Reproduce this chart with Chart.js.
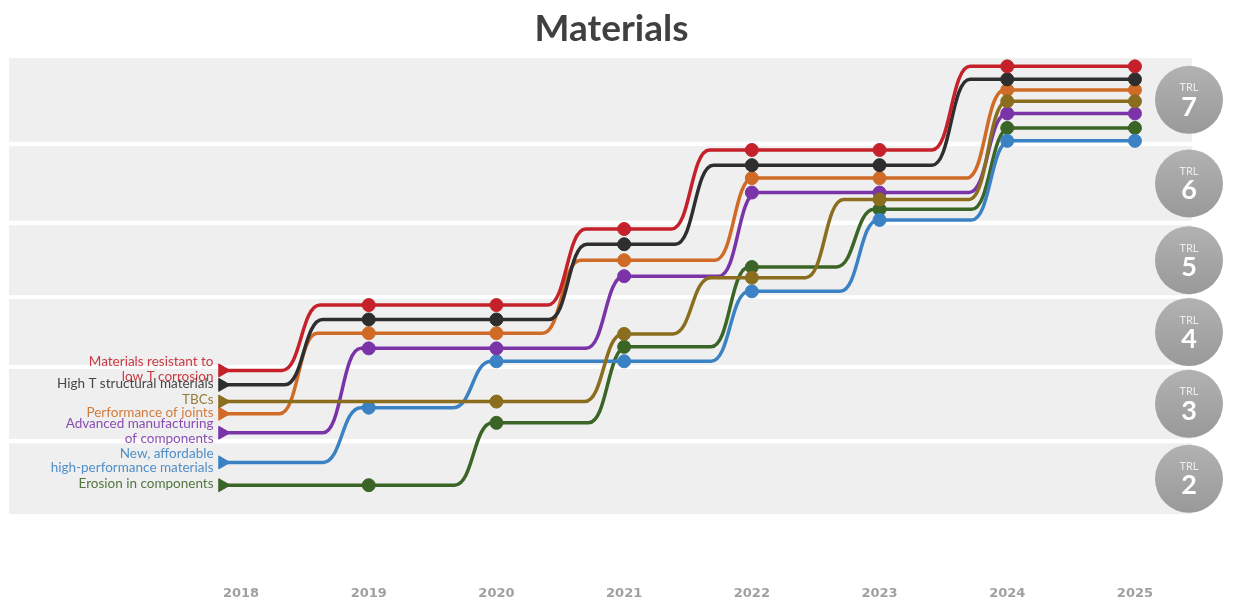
<!DOCTYPE html>
<html>
<head>
<meta charset="utf-8">
<title>Materials</title>
<script src="https://cdn.jsdelivr.net/npm/chart.js@4.4.1/dist/chart.umd.min.js"></script>
<style>
  html, body { margin: 0; padding: 0; background: #ffffff; }
  #wrap { position: relative; width: 1239px; height: 603px; }
</style>
</head>
<body>
<div id="wrap"><canvas id="materialsChart"></canvas></div>
<script>
// Start marker sits a little before 2018, then one point per year
const startYear = 2017.855;
const years = [2019, 2020, 2021, 2022, 2023, 2024, 2025];
const tickYears = [2018, 2019, 2020, 2021, 2022, 2023, 2024, 2025];

// TRL bands (value range of each grey band)
const trlLevels = [2, 3, 4, 5, 6, 7];
const bandLow = [1.5, 2.49, 3.46, 4.38, 5.36, 6.40];
const bandHigh = [2.43, 3.41, 4.33, 5.30, 6.34, 7.5];

// Series values: start, 2019 ... 2025
const resistantLowT = [3.39, 4.25, 4.25, 5.25, 6.29, 6.29, 7.39, 7.39];
const highTStructural = [3.20, 4.06, 4.06, 5.05, 6.09, 6.09, 7.22, 7.22];
const tbcs = [2.98, 2.98, 2.98, 3.87, 4.61, 5.64, 6.93, 6.93];
const joints = [2.82, 3.88, 3.88, 4.84, 5.92, 5.92, 7.08, 7.08];
const advancedMfg = [2.57, 3.68, 3.68, 4.63, 5.73, 5.73, 6.77, 6.77];
const affordable = [2.18, 2.90, 3.51, 3.51, 4.43, 5.37, 6.41, 6.41];
const erosion = [1.88, 1.88, 2.70, 3.70, 4.75, 5.51, 6.58, 6.58];

// When each step happens (year), one entry per segment, null = no step
const resistantRise = [2018.47, null, 2020.55, 2021.52, null, 2023.56, null];
const highTRise = [2018.49, null, 2020.56, 2021.55, null, 2023.56, null];
const tbcsRise = [null, null, 2020.84, 2021.53, 2022.57, 2023.85, null];
const jointsRise = [2018.45, null, 2020.51, 2021.86, null, 2023.83, null];
const advancedRise = [2018.79, null, 2020.85, 2021.89, null, 2023.85, null];
const affordableRise = [2018.79, 2019.81, null, 2021.83, 2022.84, 2023.87, null];
const erosionRise = [null, 2019.82, 2020.87, 2021.83, 2022.81, 2023.87, null];

const pointYears = [startYear, ...years];

const STEP_WIDTH = 38;
const LINE_WIDTH = 3.5;
const BAND_END_INSET = 22; // bands stop short of the right edge of the plot

function makeSeries(label, lines, color, values, rise, hideAt = []) {
  return {
    label,
    lines,
    rise,
    hideAt,
    data: pointYears.map((x, i) => ({ x, y: values[i] })),
    borderColor: color,
    backgroundColor: color,
    showLine: false,
    pointStyle: (c) => (c.dataIndex === 0 ? "triangle" : "circle"),
    rotation: (c) => (c.dataIndex === 0 ? 90 : 0),
    pointRadius: (c) => {
      if (c.dataIndex === 0) return 7.5;
      if (hideAt.includes(pointYears[c.dataIndex])) return 0;
      return 6.5;
    },
    pointBorderWidth: 1,
    pointBorderColor: color,
    pointBackgroundColor: color,
  };
}

const datasets = [
  makeSeries("Materials resistant to low T corrosion", ["Materials resistant to", "low T corrosion"], "#c4212b", resistantLowT, resistantRise),
  makeSeries("High T structural materials", ["High T structural materials"], "#2e2e2e", highTStructural, highTRise),
  makeSeries("TBCs", ["TBCs"], "#8a6d1f", tbcs, tbcsRise, [2019]),
  makeSeries("Performance of joints", ["Performance of joints"], "#d06b27", joints, jointsRise),
  makeSeries("Advanced manufacturing of components", ["Advanced manufacturing", "of components"], "#7a34a8", advancedMfg, advancedRise),
  makeSeries("New, affordable high-performance materials", ["New, affordable", "high-performance materials"], "#3b82c4", affordable, affordableRise),
  makeSeries("Erosion in components", ["Erosion in components"], "#3b6526", erosion, erosionRise),
];

// Grey TRL bands behind the lines, TRL badges and series labels on top
const bandsPlugin = {
  id: "trlBands",
  beforeDatasetsDraw(chart) {
    const { ctx, chartArea, scales } = chart;
    const right = chartArea.right - BAND_END_INSET;
    ctx.save();
    ctx.fillStyle = "#efefef";
    trlLevels.forEach((lvl, i) => {
      const top = scales.y.getPixelForValue(bandHigh[i]);
      const bottom = scales.y.getPixelForValue(bandLow[i]);
      ctx.fillRect(chartArea.left, top, right - chartArea.left, bottom - top);
    });
    ctx.restore();
  },
  afterDatasetsDraw(chart) {
    const { ctx, chartArea, scales } = chart;
    const cx = chartArea.right - BAND_END_INSET - 3;
    const r = 34;
    ctx.save();
    trlLevels.forEach((lvl, i) => {
      const cy = scales.y.getPixelForValue((bandLow[i] + bandHigh[i]) / 2);
      const grad = ctx.createLinearGradient(0, cy - r, 0, cy + r);
      grad.addColorStop(0, "#b2b2b2");
      grad.addColorStop(1, "#999999");
      ctx.beginPath();
      ctx.arc(cx, cy, r, 0, Math.PI * 2);
      ctx.fillStyle = grad;
      ctx.fill();
      ctx.textAlign = "center";
      ctx.textBaseline = "middle";
      ctx.fillStyle = "#ededed";
      ctx.font = "11px Lato";
      ctx.fillText("TRL", cx, cy - 12);
      ctx.fillStyle = "#ffffff";
      ctx.font = "bold 27px Lato";
      ctx.fillText(String(lvl), cx, cy + 7);
    });

    // series labels left of the start markers
    ctx.textAlign = "right";
    ctx.textBaseline = "middle";
    ctx.font = "13.5px Lato";
    ctx.globalAlpha = 0.88;
    chart.data.datasets.forEach((ds, i) => {
      const start = chart.getDatasetMeta(i).data[0];
      const n = ds.lines.length;
      ds.lines.forEach((line, k) => {
        const y = start.y - 1.5 + (k - (n - 1) / 2) * 14.5;
        ctx.fillStyle = ds.borderColor;
        ctx.fillText(line, start.x - 9, y);
      });
    });
    ctx.restore();
  },
};

// Smooth S-shaped steps between the points
const stepLinePlugin = {
  id: "smoothSteps",
  beforeDatasetDraw(chart, args) {
    const { ctx } = chart;
    const ds = chart.data.datasets[args.index];
    const pts = args.meta.data;
    const xScale = chart.scales.x;

    ctx.save();
    ctx.beginPath();
    ctx.moveTo(pts[0].x, pts[0].y);
    for (let i = 1; i < pts.length; i++) {
      const p0 = pts[i - 1];
      const p1 = pts[i];
      const rise = ds.rise[i - 1];
      if (rise === null || Math.abs(p1.y - p0.y) < 0.5) {
        ctx.lineTo(p1.x, p1.y);
        continue;
      }
      const xc = xScale.getPixelForValue(rise);
      ctx.lineTo(xc - STEP_WIDTH / 2, p0.y);
      ctx.bezierCurveTo(xc, p0.y, xc, p1.y, xc + STEP_WIDTH / 2, p1.y);
      ctx.lineTo(p1.x, p1.y);
    }
    ctx.strokeStyle = ds.borderColor;
    ctx.lineWidth = LINE_WIDTH;
    ctx.lineJoin = "round";
    ctx.lineCap = "round";
    ctx.stroke();
    ctx.restore();
  },
};

const ctx = document.getElementById("materialsChart");

new Chart(ctx, {
  type: "line",
  data: { datasets },
  options: {
    responsive: true,
    maintainAspectRatio: false,
    animation: false,
    layout: { padding: { top: 0, left: 9, right: 25, bottom: -7 } },
    plugins: {
      legend: { display: false },
      tooltip: { enabled: false },
      title: {
        display: true,
        text: "Materials",
        color: "#404040",
        font: { family: "Lato", size: 37, weight: "bold" },
        padding: { top: 6.4, bottom: 7.2 },
      },
    },
    scales: {
      x: {
        type: "linear",
        min: 2016.183,
        max: 2025.619,
        grid: { display: false, drawTicks: false },
        border: { display: false },
        afterBuildTicks: (axis) => {
          axis.ticks = tickYears.map((v) => ({ value: v }));
        },
        ticks: {
          padding: 9,
          autoSkip: false,
          maxRotation: 0,
          color: "#a0a0a0",
          font: { family: "DejaVu Sans", size: 13, weight: "bold" },
          callback: (v) => String(v),
        },
      },
      y: {
        display: false,
        min: 0.68,
        max: 7.5,
      },
    },
  },
  plugins: [bandsPlugin, stepLinePlugin],
});
</script>
</body>
</html>
